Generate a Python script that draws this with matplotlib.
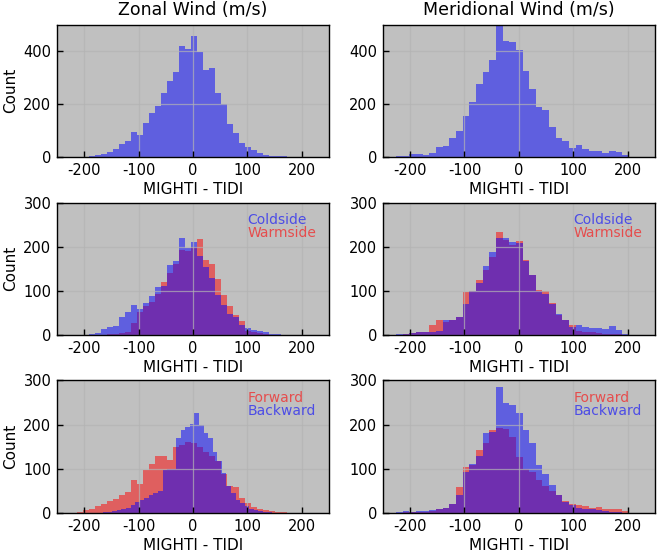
import numpy as np
import matplotlib
matplotlib.use("Agg")
import matplotlib.pyplot as plt

plt.rcParams["axes.unicode_minus"] = False

# Bin layout: (first edge, bin width) for each series
zonalBins      = (-213.65, 11.05)
meridionalBins = (-226.0, 12.25)
zonalBackBins  = (-165.0, 8.4)

# Top row: all points
zonalAll = [1, 1, 3, 6, 11, 18, 30, 48, 60, 94, 82, 127, 166, 192, 242, 286, 322, 418, 409, 455,
            395, 330, 334, 242, 199, 124, 89, 51, 36, 28, 16, 6, 4, 3, 2, 1, 1, 1]
meridionalAll = [4, 4, 10, 10, 8, 16, 39, 43, 71, 99, 154, 209, 275, 320, 367, 515, 436, 433, 403, 325,
                 257, 189, 179, 114, 73, 60, 33, 45, 30, 24, 23, 16, 24, 20, 8]

# Middle row: coldside / warmside
zonalCold = [1, 1, 2, 5, 14, 18, 20, 41, 52, 68, 58, 73, 88, 108, 112, 159, 167, 220, 198, 211,
             178, 155, 130, 90, 68, 48, 42, 22, 15, 12, 10, 6, 3, 2, 1, 1, 0, 0]
zonalWarm = [0, 0, 0, 1, 1, 2, 2, 4, 8, 27, 52, 65, 75, 92, 120, 140, 160, 193, 190, 200,
             217, 170, 162, 126, 90, 65, 45, 32, 10, 6, 4, 2, 1, 1, 0, 0, 0, 0]
meridionalCold = [2, 3, 4, 6, 6, 8, 10, 33, 35, 40, 71, 100, 118, 156, 189, 220, 220, 210, 208, 167,
                  137, 100, 92, 70, 48, 35, 18, 22, 18, 17, 17, 14, 20, 11, 3]
meridionalWarm = [1, 2, 4, 6, 8, 22, 33, 30, 33, 40, 98, 100, 125, 147, 177, 234, 215, 205, 212, 170,
                  135, 102, 100, 73, 45, 33, 22, 10, 8, 6, 5, 3, 2, 2, 1]

# Bottom row: forward / backward
zonalForward = [3, 6, 10, 15, 20, 26, 32, 40, 48, 74, 65, 98, 112, 129, 130, 121, 150, 155, 160, 158,
                150, 138, 128, 117, 89, 61, 58, 35, 22, 14, 9, 6, 4, 3, 2, 1, 1, 0]
zonalBackward = [2, 3, 4, 6, 8, 12, 18, 25, 30, 35, 40, 45, 50, 98, 100, 100, 169, 188, 194, 202,
                 226, 199, 180, 169, 139, 118, 90, 62, 45, 30, 22, 15, 10, 6, 4, 3, 2, 1]
meridionalForward = [1, 2, 2, 3, 3, 5, 8, 12, 20, 58, 104, 108, 142, 158, 188, 193, 190, 173, 127, 100,
                     93, 74, 60, 50, 40, 28, 20, 18, 15, 12, 14, 10, 10, 8, 5]
meridionalBackward = [3, 4, 3, 5, 4, 6, 8, 12, 20, 40, 93, 110, 129, 180, 184, 286, 248, 245, 226, 188,
                      158, 108, 89, 63, 40, 25, 18, 12, 10, 8, 6, 5, 3, 2, 1]

xTicks = [-200, -100, 0, 100, 200]
colTitles = ["Zonal Wind (m/s)", "Meridional Wind (m/s)"]


def binEdges(binInfo, counts):
    start, width = binInfo
    return start + width * np.arange(len(counts) + 1)


def drawHist(ax, counts, binInfo, color):
    edges = binEdges(binInfo, counts)
    centers = 0.5 * (edges[:-1] + edges[1:])
    ax.hist(centers, bins=edges, weights=counts, histtype="stepfilled",
            color=color, alpha=0.5, linewidth=0, zorder=2)


def configureAxis(ax, yTicks, yMax, showYLabel):
    ax.set_facecolor("#c0c0c0")
    ax.set_xlim(-250, 250)
    ax.set_ylim(0, yMax)
    ax.set_xticks(xTicks)
    ax.set_yticks(yTicks)
    ax.grid(True, color="#b4b4b4", alpha=0.7, linewidth=0.9, zorder=3)
    ax.set_axisbelow(False)
    ax.tick_params(direction="in", length=4, width=1, labelsize=10.5, pad=4)
    for spine in ax.spines.values():
        spine.set_linewidth(1.0)
        spine.set_zorder(4)
    ax.set_xlabel("MIGHTI - TIDI", fontsize=11, labelpad=3)
    if showYLabel:
        ax.set_ylabel("Count", fontsize=11, labelpad=4)


def addLabels(ax, topText, topColor, bottomText, bottomColor):
    ax.text(0.70, 0.87, topText, color=topColor, alpha=0.6, fontsize=10,
            transform=ax.transAxes, va="center", ha="left", zorder=5)
    ax.text(0.70, 0.77, bottomText, color=bottomColor, alpha=0.6, fontsize=10,
            transform=ax.transAxes, va="center", ha="left", zorder=5)


fig = plt.figure(figsize=(6.58, 5.52), dpi=100)

colLeft = [0.0866, 0.582]
rowBottom = [0.7156, 0.393, 0.0707]
axWidth = 0.413
axHeight = 0.240

axes = [[fig.add_axes([colLeft[c], rowBottom[r], axWidth, axHeight]) for c in range(2)] for r in range(3)]

# 1.- Top row: all data -------------------------
drawHist(axes[0][0], zonalAll, zonalBins, "blue")
drawHist(axes[0][1], meridionalAll, meridionalBins, "blue")

# 2.- Middle row: coldside vs warmside ---------------------
drawHist(axes[1][0], zonalWarm, zonalBins, "red")
drawHist(axes[1][0], zonalCold, zonalBins, "blue")
drawHist(axes[1][1], meridionalWarm, meridionalBins, "red")
drawHist(axes[1][1], meridionalCold, meridionalBins, "blue")

# 3.- Bottom row: forward vs backward ---------------------
drawHist(axes[2][0], zonalForward, zonalBins, "red")
drawHist(axes[2][0], zonalBackward, zonalBackBins, "blue")
drawHist(axes[2][1], meridionalForward, meridionalBins, "red")
drawHist(axes[2][1], meridionalBackward, meridionalBins, "blue")

for r in range(3):
    for c in range(2):
        if r == 0:
            configureAxis(axes[r][c], [0, 200, 400], 500, c == 0)
        else:
            configureAxis(axes[r][c], [0, 100, 200, 300], 300, c == 0)

for c in range(2):
    axes[0][c].set_title(colTitles[c], fontsize=12.5, pad=7)
    addLabels(axes[1][c], "Coldside", "blue", "Warmside", "red")
    addLabels(axes[2][c], "Forward", "red", "Backward", "blue")

fig.savefig("out.png", dpi=100)
